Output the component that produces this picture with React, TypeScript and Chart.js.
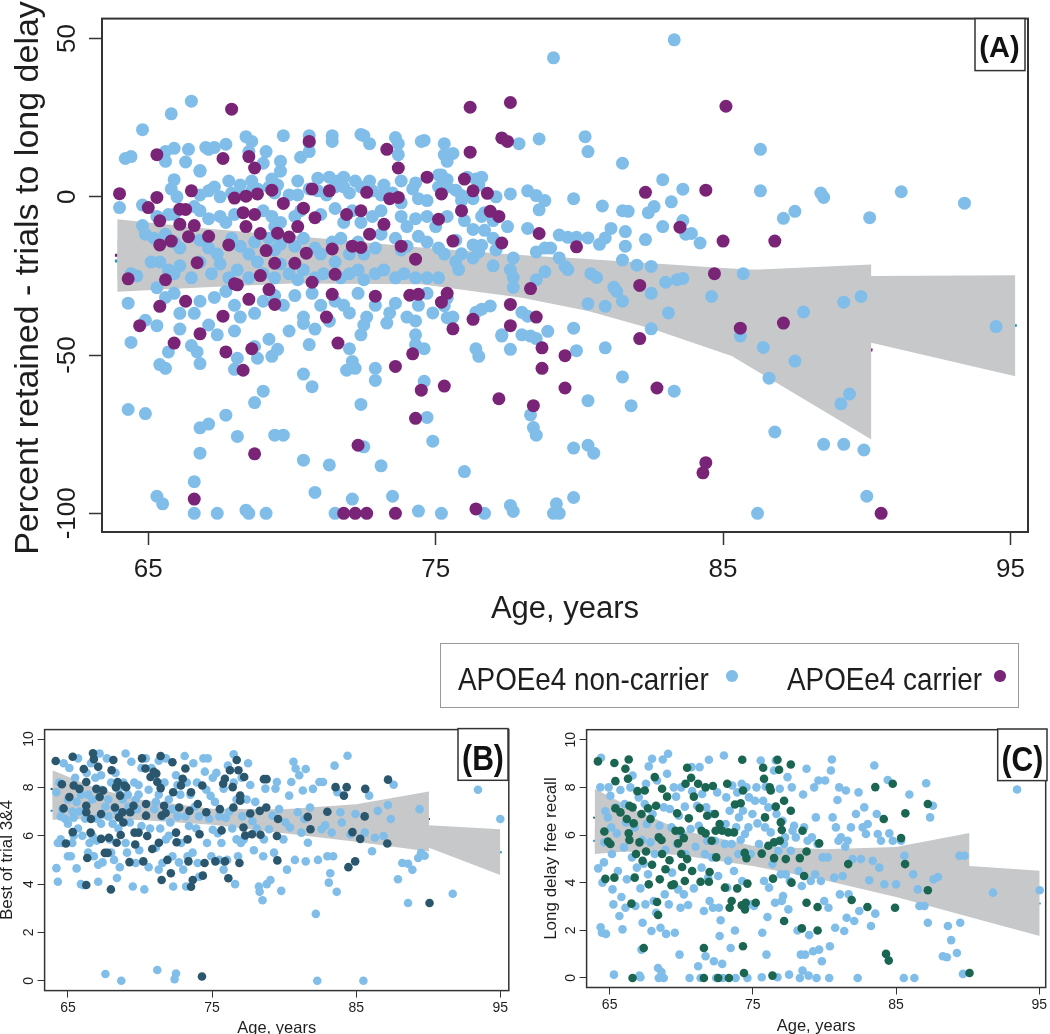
import React, { useEffect, useRef } from "react";
import { Chart, registerables } from "chart.js";

Chart.register(...registerables);

type Pt = [number, number];

const FONT = '"Liberation Sans", Arial, Helvetica, sans-serif';
const NC_COLOR = "#80BEE9";
const BAND_COLOR = "#C7C8CA";

// ---------- axis ticks ----------
const ageTicks = [65, 75, 85, 95];
const panelAYTicks = [-100, -50, 0, 50];
const panelBYTicks = [0, 2, 4, 6, 8, 10];
const panelCYTicks = [0, 2, 4, 6, 8, 10];

// ---------- legend ----------
const legendLabels = ["APOEe4 non-carrier", "APOEe4 carrier"];

// ---------- Panel A: percent retained - trials to long delay ----------
const panelANonCarrier: Pt[] = [
  [83.3,49.6],[79.1,43.9],[66.5,30.2],[65.8,26.2],[64.8,21.2],[64.2,12.1],[64.4,12.7],[64.0,-3.4],[64.8,-2.6],[64.8,-9.1],
  [80.2,19],[80.3,14.3],[78.6,18.3],[77.9,16.8],[77.6,0.9],[78.2,1.9],[78.5,0.4],[78.8,-1.2],[79.8,-0.6],[80.8,-2.9],
  [81.5,10.6],[81.5,-4.4],[81.7,-4.6],[82.4,-5],[82.6,-3.1],[82.9,5.4],[83.2,-1.6],[83.6,2.4],[82.9,-9.4],[83.6,-7.5],
  [83.7,-11.8],[83.9,-11.6],[84.2,-14.6],[81.1,-10],[80.9,-13],[80.7,-15],[81.6,-11],[81.6,-15.6],[81.5,-20],[82.3,-13.5],
  [82,-21.6],[82.5,-22],[83,-27],[83.4,-26.2],[83.6,-25.8],[82.5,-30.5],[83.1,-36.7],[82.5,-41.7],[80.9,-47.7],[79.9,-48.6],
  [80.4,-24.3],[80.6,-25.5],[81.2,-28.6],[81.3,-29.9],[81.5,-33],[80.3,-33.8],[80.9,-34.6],[79.8,-41.5],[79.6,-12.8],[79.9,-12.8],
  [80.3,-13],[79.3,-12.1],[79.3,-19.3],[79.5,-22],[79.6,-23],[79,-16.2],[78.8,-16.2],[78.5,-17.4],[78.8,-23.7],[78.5,-26.2],
  [78.2,-10],[78.6,-4.1],[77.7,-19.3],[77.6,-23],[77.7,-25.5],[77.7,-28.6],[78,-36.5],[78.2,-37.7],[78,-43.6],[78.3,-44],
  [78.5,-44.8],[78.9,-42.5],[77.6,-48.2],[77.3,-43.6],[76.4,-48],[76.5,-50.4],[78.3,-68.9],[78.4,-72.9],[78.5,-75.3],[79.8,-79.4],
  [80.3,-78.5],[80.5,-81],[80.3,-64.4],[81.8,-66],[81.5,-56.9],[83.3,-61.4],[85.7,-24.3],[84.6,-31.5],[85.6,-44],[86.4,-47.6],
  [86.6,-57.3],[86.8,-74.3],[87.5,-51.9],[87.8,-36.4],[87.1,-6.8],[87.5,-4.6],[86.3,1.9],[86.3,15],[88.4,1.2],[88.5,-0.2],
  [90.1,-6.6],[91.2,1.6],[93.4,-2],[94.5,-41],[89.2,-33.3],[89.8,-31.5],[89.1,-65.4],[89.4,-62.3],[88.5,-78.2],[89.2,-78.2],
  [89.9,-80],[86.2,-100],[90,-94.6],[79.8,-95],[79.2,-97],[79.3,-100],[79.1,-100],[77.6,-97.5],[77.7,-99.4],[76.7,-100],
  [76,-86.8],[75.2,-100],[74.4,-99.3],[73.5,-94.6],[73.1,-85],[72.4,-65.6],[72.5,-79],[72.1,-95.5],[71.5,-100],[71.3,-84.7],
  [70.8,-93.4],[70.4,-83.2],[70.7,-60],[70.4,-56],[70.6,-46.7],[69.1,-100],[68.5,-100],[68.4,-99],[67.4,-100],[66.6,-100],
  [66.6,-90],[65.3,-94.6],[65.5,-97],[66.8,-81],[66.8,-73],[67.1,-71.8],[67.7,-69],[68.1,-75.7],[69.4,-75.3],[69.7,-75.3],
  [68.7,-65],[69,-61.4],[64.3,-67.2],[64.9,-68.5],[65.4,-53],[65.6,-54.2],[65.7,-49],[64.4,-46],[65.3,-40.7],[64.9,-39],
  [64.3,-33.6],[64.6,-25],[66.8,-52.7],[66.5,-47],[66.7,-49],[68,-54.5],[68.1,-51],[68.8,-51],[68.7,-47.3],[69.3,-50.4],
  [69.5,-48.2],[69.2,-45],[69.9,-42.4],[70.4,-38],[70.4,-40],[72,-48],[72.1,-52],[71.9,-54.8],[72.2,-54.2],[72.4,-43.6],
  [72.5,-40.5],[72,-36.7],[72.6,-38],[72.9,-54.2],[72.9,-58],[73.3,-39.9],[73.4,-36.7],[73.6,-33.6],[74,-38],[74.3,-39.2],
  [74.3,-43.6],[74.3,-46.7],[74.6,-48],[74.6,-58.3],[74.7,-69.7],[74.9,-77.2],[74.9,-36.7],[75.3,-34.4],[75.4,-32],[75.4,-38.2],
  [75.6,-38],[76.4,-36.5],[76.9,-34.5],[76.6,-35.5],[77.3,-44],[77.1,-16.8],[77,-21.8],[76.6,-15.3],[76.7,-10.6],[76.6,-6.2],
  [76.7,-5],[76.6,6.2],[76.1,6.2],[76.4,5.6],[76.5,3.7],[75.2,6.9],[75.4,5.4],[75.7,2.1],[75.9,0.4],[75.9,-1.2],
  [75.9,-4.4],[76,-7.5],[76.3,-10.3],[76.3,-15.2],[76.5,-17.4],[76.3,-19.3],[75.9,-18],[75.7,-20.5],[75.8,-23],[75.3,13.3],
  [75.4,11.2],[75.6,13.7],[75.3,16.8],[74.5,17.5],[74.6,17.8],[73.7,13.3],[73.7,16.8],[73.6,18.7],[72.7,16.8],[72.5,19.3],
  [72.4,19.7],[71.4,17.5],[71.4,19.3],[70.6,19.3],[70.6,14.3],[70.3,12.5],[70.6,17],[69.7,19.3],[69.6,11.2],[69.6,8.1],
  [69,10.6],[69.1,14.3],[68.5,14.3],[68.4,19],[68.6,17.5],[67.7,16.6],[67,15.6],[67.1,15],[67.3,15.6],[66.4,15],
  [65.9,15.3],[65.6,14.3],[65.6,11.2],[66.3,11],[66.8,8.3],[65.9,5.4],
  [66.8,8.1],[67.3,3.1],[67.8,5],[68.2,3.7],[68.6,5],[69.3,5.6],[69.5,3.7],[70.2,5],[70.9,5.9],[71.3,6.2],
  [71.6,5],[71.8,6.2],[72.2,5],[72.7,5],[73.2,3.7],[73.8,5],[74.3,4.4],[75.1,6.9],
  [65.8,2.5],[66,0],[66.8,0.6],[67.1,1.9],[67.5,0],[67.9,1.2],[68.1,0.6],[68.6,1.9],[68.8,2.5],[69.2,3.1],
  [69.4,1.2],[69.9,0.6],[70.2,0.6],[70.6,2.5],[70.9,1.9],[71.2,0.6],[71.5,3.1],[71.8,3.1],[72,1.2],[72.4,3.1],
  [72.8,1.9],[73.1,0.6],[73.5,1.2],[73.8,-1.9],[74.2,2.5],[74.4,-0.6],[74.7,-1.2],[75.1,3.1],[75.4,3.1],[76.3,-0.6],[77.1,0],
  [65.3,-6.2],[65.7,-5.6],[65.9,-5.6],[66.6,-3.1],[66.8,-4.4],[67.1,-6.9],[67.5,-6.2],[67.7,-8.1],[68,-5.6],[69,-4.4],
  [69.3,-6.2],[69.4,-9.4],[69.6,-8.1],[70.1,-6.2],[70.3,-4.4],[71,-5.6],[71.5,-3.7],[71.8,-8.1],[72.1,-4.4],[72.4,-8.1],
  [72.8,-6.2],[73.1,-4.4],[73.8,-6.2],[74,-9.4],[74.3,-6.9],[74.7,-6.2],[75,-9.4],[75.4,-6.2],[77,-7.5],[77.5,-9.4],
  [64.9,-11.8],[65.2,-13.1],[65.6,-11.8],[65.9,-14.3],[66.1,-16.2],[66.8,-13.7],[67.1,-16.2],[67.4,-18.1],[67.9,-13.1],[68.2,-15.6],
  [68.5,-18.1],[68.7,-14.3],[69.2,-13.1],[69.4,-16.8],[69.6,-15],[70.1,-15.6],[70.4,-13.1],[70.8,-16.2],[71,-18.1],[71.4,-14.3],
  [71.7,-13.1],[72,-18.1],[72.3,-14.3],[72.5,-18.1],[72.9,-16.2],[73.1,-11.8],[73.6,-13.1],[73.8,-16.8],[74,-15.6],[74.4,-12.5],
  [74.7,-14.3],[75.1,-16.2],[75.3,-18.1],[75.7,-13.7],[77,-13.1],
  [64.4,-24.3],[65.1,-20.6],[65.4,-20.6],[65.7,-23.1],[65.9,-24.3],[66.1,-21.8],[66.5,-25.6],[66.8,-20.6],[67.2,-24.3],[67.5,-21.2],
  [67.8,-25.6],[68.1,-23.1],[68.5,-25.6],[68.8,-20.6],[69,-24.3],[69.4,-25.6],[69.6,-21.2],[69.9,-24.3],[70.2,-26.2],[70.4,-23.1],
  [70.8,-25.6],[71.1,-24.3],[71.5,-20.6],[71.7,-25.6],[72,-24.3],[72.3,-23.1],[72.5,-26.2],[72.9,-24.3],[73.2,-23.1],[73.6,-25.6],
  [73.9,-24.3],[74.3,-25.6],[74.7,-25.6],[75.1,-25.6],
  [65.3,-28.7],[65.6,-31.8],[65.9,-30.5],[66.1,-36.8],[66.6,-36.8],[66.8,-33],[67.3,-31.8],[67.7,-29.9],[68,-34.3],[68.2,-38],
  [68.7,-36.8],[69,-33],[69.4,-31.2],[69.7,-34.3],[70.1,-31.2],[70.7,-30.5],[71,-34.3],[71.5,-33],[71.8,-34.3],[72.3,-30.5],
  [72.9,-34.3],[74.4,-34.3],[74.7,-30.5],
  [66.1,-41.8],[67.1,-40.5],[67.4,-43.6],[68,-42.4],[70.8,-41.8],[71.3,-39.3]
];

const panelACarrier: Pt[] = [
  [64,1],[64.3,-25.9],[64.7,-40.7],[65,-3.4],[65.3,13.3],[65.3,-0.2],[65.4,-7.6],[65.4,-15.2],[65.4,-34.6],[65.6,-26.2],
  [65.8,-14],[65.9,-46.2],[66.1,-3.9],[66.1,-8.7],[66.3,-4],[66.3,-33],[66.4,-12.6],[66.5,1.9],[66.6,-95.5],[66.6,-9.1],
  [66.7,-20.8],[66.8,-43.3],[67.1,-12.5],[67.6,12.1],[67.6,-37.7],[67.7,-49],[67.8,-15.2],[67.9,27.7],[68,-0.4],[68,-27.5],
  [68.1,-27.8],[68.3,-5],[68.4,0.2],[68.4,-9.4],[68.5,-32.4],[68.5,12.7],[68.6,-48],[68.7,9.1],[68.7,-81.2],[68.7,-5.6],
  [68.8,0.9],[68.9,-11.6],[68.9,-24.9],[69.1,-17],[69.2,-29.3],[69.3,2.1],[69.4,-21],[69.4,-34],[69.5,-11.5],[69.7,-2.1],
  [69.9,-12.7],[70.1,-21],[70.2,-9.4],[70.4,-3.6],[70.5,-17.8],[70.6,17.5],[70.7,2.5],[70.7,-27],[70.8,-6.6],[71.2,-38],
  [71.3,1.9],[71.4,-16.5],[71.4,-30.8],[71.5,-24.5],[71.6,-46.2],[71.9,-5.6],[72.1,-15.6],[72.3,-78.5],[72.4,-4.4],[72.4,-16],
  [72.6,1.4],[72.7,-11.8],[72.9,-31.4],[73.2,-8.7],[73.3,15],[73.4,-0.6],[73.6,-53.6],[73.7,9.1],[73.7,-0.2],[73.8,-15.6],
  [74.1,-31.1],[74.2,-49.6],[74.3,-19.7],[74.3,-70],[74.4,-30.8],[74.5,-61.1],[74.7,6.2],[75.1,-7.1],[75.2,0.9],[75.2,-33.3],
  [75.3,-59.8],[75.4,-30.5],[75.6,-14],[75.6,-41.7],[75.9,-4.4],[76,5.6],[76.2,28.3],[76.2,14.1],[76.3,1.9],[76.3,-38.7],
  [76.4,-98.6],[76.8,1.1],[76.9,-4.6],[77.2,-63.8],[77.2,-6.2],[77.3,18.6],[77.3,-14.6],[77.5,17.5],[77.6,29.8],[77.6,-34],
  [77.6,-40.7],[78.3,-29],[78.4,-66],[78.5,-38],[78.6,-11.6],[78.7,-47.7],[78.7,-54.2],[79.5,-60.4],[79.5,-50.2],[79.9,-15.8],
  [82.1,-44.8],[82.1,-28],[82.3,1.4],[82.7,-60.4],[83.5,-9.6],[84.3,-87.2],[84.4,-84],[84.4,2.1],[84.7,-24.3],[85,-14],
  [85.1,28.6],[85.6,-41.5],[86.8,-14],[87.1,-39.9],[90.5,-100],[71.8,-100],[72.2,-100],[72.6,-100],[73.6,-100],[68.3,-54.8]
];

// confidence ribbons (age, upper, lower) and fitted smooth lines, panel A
const aBandNcAge = [63.92, 70, 75, 80, 85, 90.16, 95.17];
const aBandNcUpper = [-14, -15.5, -17, -19.5, -22.5, -25, -24.8];
const aBandNcLower = [-26, -26.5, -27, -30, -36, -46.1, -56.7];
const aBandCAge = [63.92, 67, 70, 74.5, 78, 80.3, 82.6, 85.3, 90.16];
const aBandCUpper = [-7.1, -10, -12.3, -16, -18.5, -20.2, -21.8, -23.4, -21.4];
const aBandCLower = [-30, -28.6, -27.4, -27.6, -31.9, -36.1, -41.9, -50.3, -76.7];
const aFitNc: Pt[] = [[63.84, -20.3], [70, -21], [75, -22.5], [80, -25], [85, -29], [90.16, -35.5], [95.22, -40.7]];
const aFitC: Pt[] = [[63.84, -18.5], [70, -20], [75, -22], [80, -27.5], [85, -36], [90.2, -48.5]];

// ---------- Panel B: best of trial 3&4 ----------
const panelBNonCarrier: Pt[] = [
  [64.2,4.66],[64.3,4.1],[64.4,8.2],[64.5,5.85],[64.6,5.7],[64.7,9.0],[64.8,6.7],[65,6.5],[65.1,8.8],[65.2,5.15],
  [65.3,5.7],[65.5,8.4],[65.6,4.65],[65.6,7.4],[65.7,6.3],[65.7,9.2],[65.9,4.0],[65.9,7.7],[66,6.0],[66.1,3.95],
  [66.2,6.7],[64.6,7.1],[64.5,6.8],[64.3,5.7],[65,7.5],[65.3,7.0],[65.4,6.75],[64.2,7.8],[65.8,7.0],[65,5.15],[65.4,6.0],
  [66.4,7.7],[66.5,5.7],[66.6,9.0],[66.7,7.5],[66.9,8.4],[67.0,5.8],[67.1,4.8],[67.1,4.1],[67.2,9.4],[67.3,8.5],
  [67.3,6.5],[67.4,4.9],[67.6,7.2],[67.7,9.2],[67.6,0.28],[67.8,7.5],[67.9,5.85],[68,8.2],[68.1,6.5],[68.2,5.0],
  [68.3,8.6],[68.4,7.0],[68.4,4.25],[68.5,6.3],[68.6,4.7],[68.7,0],[68.8,7.5],[68.85,8.2],[69,5.7],[69,9.4],
  [69.1,5.3],[69.15,7.7],[69.3,6.55],[69.4,9.06],[69.5,3.9],[69.6,8.2],[69.7,4.87],[69.8,7.1],[69.9,7.7],[69.95,5.4],
  [70.1,8.8],[70.1,6.4],[70.3,3.78],[69.9,8.1],[69.7,7.5],[69.4,7.0],[69.2,7.2],[68.5,7.9],[68,5.3],[67.8,6.8],
  [67.3,7.9],[67,6.7],[66.7,6.0],[66.8,5.15],[66.3,8.6],[66.4,5.3],
  [70.4,9.2],[70.6,7.9],[70.6,4.7],[70.7,6.3],[70.8,8.8],[71,7.1],[71.1,5.5],[71.2,0.45],[71.3,7.7],[71.3,9.1],
  [71.4,6.3],[71.55,4.87],[71.7,8.2],[71.8,5.85],[71.8,9.2],[72,7.5],[72.1,6.55],[72.25,5.15],[72.3,3.9],[72.4,0.07],
  [72.5,0.3],[72.5,8.5],[72.6,6.8],[72.7,4.9],[72.8,7.7],[72.85,5.7],[73,4.6],[73.1,9.3],[73.15,6.8],[73.2,3.9],
  [73.25,8.2],[73.3,5.15],[73.4,6.4],[73.5,7.7],[73.65,5.3],[73.7,9.0],[73.8,7.2],[73.9,6.3],[73.95,8.2],[74,4.87],
  [74.1,4.3],[74.1,6.8],[71.1,7.4],[71.55,6.8],[72,6.0],[72.25,7.1],[72.6,8.1],[71.3,4.6],
  [74.4,9.2],[74.5,8.65],[74.6,7.9],[74.65,5.7],[74.7,9.2],[74.8,6.7],[74.9,7.65],[74.95,5.15],[75.05,8.4],[75.2,7.4],
  [75.3,8.6],[75.4,6.1],[75.5,5.0],[75.65,5.7],[75.8,4.6],[75.8,7.95],[75.95,6.75],[76.05,5.0],[76.1,8.9],[76.4,6.3],
  [76.5,8.2],[76.5,9.37],[76.6,4.0],[76.7,7.5],[76.8,5.15],[77,5.7],[77.05,8.4],[77.1,6.8],[77.2,5.85],[77.4,7.5],
  [77.5,9.0],[77.65,8.1],[77.8,6.6],[77.9,5.4],[78,7.4],[78.1,6.3],[78.25,3.9],[76.7,5.85],[75.5,6.8],[75.05,6.25],[76.2,7.0],
  [78.3,3.68],[78.5,3.33],[78.55,5.15],[78.6,5.85],[78.7,7.95],[78.8,4.0],[78.95,6.27],[79.05,4.17],[79.2,6.83],[79.3,5.3],
  [79.4,7.95],[79.5,8.22],[79.65,7.1],[79.8,3.72],[79.95,5.85],[80.1,6.55],[80.2,4.6],[80.35,7.66],[80.4,6.34],[80.5,8.22],
  [80.65,9.06],[80.75,5.0],[80.8,8.78],[80.95,6.97],[81.05,8.5],[81.2,6.13],[81.3,7.87],[81.4,6.69],[81.5,8.76],[81.65,5.71],
  [81.5,4.94],[81.8,7.17],[82,7.94],[82.2,2.77],[82.3,0],[82.35,5.0],[82.45,8.22],[82.6,6.27],
  [82.7,8.22],[82.85,6.43],[83,5.15],[83.1,4.06],[83.2,4.45],[83.3,6.13],[83.4,5.15],[83.5,8.9],[83.65,3.68],[83.7,7.8],
  [83.9,6.97],[84,6.55],[84.4,9.31],[84.6,6.06],[84.95,6.9],[85.5,0],[85.6,6.13],[85.9,7.66],[86.1,5.36],[86.3,5.92],
  [86.5,7.03],[86.9,5.99],[87.2,7.27],[87.4,6.69],[87.6,8.11],[87.9,4.2],[88.2,4.87],[88.6,4.84],[88.6,3.22],[88.9,4.59],
  [89.3,5.08],[89.4,7.1],[89.5,5.29],[89.75,5.17],[91.7,3.6],[93.45,7.9],[95,6.69]
];

const panelBCarrier: Pt[] = [
  [64.15,9.09],[64.58,8.13],[64.7,7.13],[64.86,5.68],[65.1,7.6],[65.33,9.27],[65.4,8.08],[65.8,7.94],[65.33,6.15],[66.1,8.76],
  [66.27,8.22],[66.27,7.24],[66.27,6.97],[66.34,5.08],[66.27,3.96],[66.57,6.13],[66.6,6.69],[66.74,9.41],[66.8,9.17],[66.97,7.94],
  [67.1,8.85],[67.2,7.6],[67.3,6.9],[67.3,5.87],[67.44,7.87],[67.56,5.29],[67.75,5.29],[67.84,5.92],[67.98,3.78],[68.03,8.71],
  [68.15,9.13],[68.26,7.17],[68.33,8.01],[68.38,5.71],[68.45,8.22],[68.54,6.76],[68.62,7.66],[68.66,6.03],[68.78,6.97],[68.85,6.55],
  [68.92,8.08],[69.04,8.01],[69.27,4.91],[69.32,6.97],[69.55,7.24],[69.62,6.13],[69.67,5.64],[69.9,6.13],[70.14,9.2],[70.23,4.94],
  [70.38,8.78],[70.42,7.31],[70.42,6.83],[70.5,5.99],[70.73,8.43],[70.85,5.45],[70.96,8.64],[71.13,8.57],[71.2,8.22],[71.31,5.71],
  [71.43,9.3],[71.43,7.97],[71.5,4.17],[71.5,6.83],[71.67,7.24],[71.78,6.94],[71.9,5.0],[72.14,4.45],[72.25,9.04],[72.3,7.8],
  [72.5,6.13],[72.54,5.73],[72.72,7.17],[72.84,8.08],[72.96,8.36],[73.15,8.78],[73.3,5.85],[73.36,4.94],[73.43,7.03],[73.54,7.8],
  [73.54,3.89],[73.66,4.17],[74.01,7.31],[74.13,6.06],[74.3,0.18],[74.32,8.08],[74.36,4.35],[74.48,4.87],[74.6,6.97],[75.23,4.94],
  [75.54,7.1],[75.66,6.22],[75.77,8.15],[75.89,8.36],[75.89,4.94],[76.13,4.24],[76.24,8.71],[76.43,8.01],[76.48,7.17],[76.71,9.13],
  [76.83,8.71],[76.95,7.66],[76.95,7.45],[76.9,4.87],[77.18,6.34],[77.23,8.43],[77.3,6.01],[77.65,6.92],[77.77,6.06],[78.36,6.04],
  [78.6,8.34],[78.78,8.34],[78.76,7.17],[78.31,7.03],[79.5,5.99],[79.53,4.98],[79.58,6.69],[81.64,6.78],[81.83,6.27],[83.0,6.99],
  [83.57,8.01],[84.15,7.66],[84.34,8.01],[84.46,4.7],[84.74,6.15],[84.93,4.94],[85.28,5.87],[85.59,6.8],[85.63,7.94],[87.21,8.32],
  [87.16,5.68],[90.09,3.22]
];

const bBandNcAge = [63.92, 70, 75, 80, 85, 90.05, 95];
const bBandNcUpper = [7.75, 7.3, 6.95, 6.75, 6.55, 6.43, 6.27];
const bBandNcLower = [7.0, 6.8, 6.55, 6.2, 5.85, 5.5, 4.38];
const bBandCAge = [63.92, 67, 70, 75, 80, 85, 90.05];
const bBandCUpper = [8.71, 7.95, 7.5, 7.12, 7.1, 7.3, 7.83];
const bBandCLower = [6.66, 6.7, 6.65, 6.45, 6.1, 5.75, 5.35];
const bFitNc: Pt[] = [[63.8, 7.03], [70, 7.0], [75, 6.75], [80, 6.45], [85, 6.2], [90.05, 5.95], [95.1, 5.31]];
const bFitC: Pt[] = [[63.8, 7.94], [67, 7.5], [70, 7.1], [75, 6.8], [80, 6.6], [85, 6.55], [90.12, 6.69]];

// ---------- Panel C: long delay free recall ----------
const panelCNonCarrier: Pt[] = [
  [64.2,4.6],[64.35,8.0],[64.4,9.24],[64.37,2.13],[64.46,1.9],[64.74,1.85],[64.63,5.69],[64.5,4.0],[64.7,7.0],[64.6,4.85],
  [64.93,8.0],[65.05,7.65],[65.16,5.2],[65.2,3.72],[65.26,3.09],[65.3,0.14],[64.88,6.74],[65.12,6.32],[65.44,7.16],[65.5,6.07],
  [65.58,4.49],[65.68,2.6],[65.75,7.89],[65.82,3.4],[65.9,2.04],[66,5.48],[66.05,7.3],[66.1,2.95],[66.14,6.53],[66.2,4.14],
  [66.45,8.0],[66.56,5.06],[66.6,8.5],[66.75,6.32],[66.8,3.02],[66.9,4.63],[67.03,7.58],[67.08,0.1],[67.15,0.03],[67.15,3.76],
  [67.22,1.19],[67.26,5.79],[67.3,2.32],[67.38,4.8],[67.45,7.3],[67.5,3.09],[67.54,8.15],[67.6,6.46],[67.68,4.35],[67.73,8.88],
  [67.85,5.69],[67.92,1.97],[67.96,9.2],[68.0,6.88],[68.08,3.23],[68.15,5.2],[68.24,2.74],[68.31,8.29],[68.38,0.42],[68.43,0],
  [68.48,6.39],[68.55,2.11],[68.62,0.25],[68.71,9.17],[68.78,0],[68.78,7.16],[68.85,3.51],[68.9,5.37],[68.94,1.85],[69.01,8.57],
  [69.08,9.41],[69.13,3.09],[69.2,7.09],[69.32,6.32],[69.36,4.42],[69.48,8.0],[69.55,1.9],[69.64,7.61],[69.71,5.62],[69.78,3.72],
  [69.83,6.81],[69.88,0.98],[69.95,2.95],[70.0,8.0],[70.06,6.04],[70.18,3.51],[70.25,7.19],[70.3,5.2],
  [70.48,3.06],[70.58,0],[70.65,6.25],[70.72,8.85],[70.76,7.84],[70.88,3.76],[71.0,5.51],[71.11,7.23],[71.18,0.49],[71.23,6.39],
  [71.28,8.85],[71.35,0],[71.42,4.63],[71.46,7.72],[71.58,2.81],[71.65,5.2],[71.7,0.91],[71.74,7.16],[71.81,5.76],[71.88,4.21],
  [71.93,9.16],[71.98,3.23],[72.05,6.88],[72.16,5.06],[72.21,2.95],[72.28,0.7],[72.35,5.76],[72.44,0],[72.51,7.79],[72.58,4.28],
  [72.63,2.95],[72.68,1.76],[72.75,2.42],[72.86,0.59],[72.91,0],[72.98,9.34],[73.05,5.62],[73.1,6.46],[73.14,7.58],[73.21,3.79],
  [73.28,4.92],[73.38,7.02],[73.45,1.26],[73.52,5.62],[73.56,8.08],[73.68,4.49],[73.75,1.99],[73.8,0],[73.84,6.32],[73.91,7.79],
  [73.98,5.2],[74.03,6.74],[74.15,5.79],[74.22,8.15],[74.26,4.07],[74.31,7.02],
  [74.45,6.04],[74.55,8.0],[74.62,0],[74.69,6.32],[74.73,7.58],[74.85,5.2],[74.92,3.09],[74.97,6.88],[75.08,3.02],[75.15,7.44],
  [75.25,8.0],[75.32,6.49],[75.43,5.62],[75.55,9.13],[75.62,0.03],[75.66,1.9],[75.72,7.44],[75.78,4.07],[75.85,6.32],[75.9,8.03],
  [75.95,0.98],[76.02,2.56],[76.08,7.16],[76.13,3.79],[76.25,6.11],[76.37,4.78],[76.48,8.71],[76.55,3.16],[76.6,9.13],[76.65,6.88],
  [76.72,0.03],[76.78,5.34],[76.88,7.94],[76.95,4.35],[77.02,3.23],[77.07,6.6],[77.11,3.44],[77.18,5.62],[77.25,5.9],[77.3,4.35],
  [77.42,8.43],[77.48,2.88],[77.53,0.14],[77.58,4.07],[77.65,5.34],[77.72,8.0],[77.77,6.18],
  [77.88,6.39],[78.0,5.9],[78.12,1.99],[78.2,4.49],[78.28,0],[78.35,0.98],[78.42,3.86],[78.47,0.31],[78.51,7.7],[78.58,6.32],
  [78.65,0.98],[78.75,8.78],[78.82,5.76],[78.89,0.1],[78.93,1.8],[79.05,4.07],[79.12,5.9],[79.21,1.12],[79.28,8.0],[79.35,4.35],
  [79.4,6.74],[79.45,0],[79.52,5.62],[79.58,8.29],[79.63,1.19],[79.75,4.07],[79.82,0.7],[79.87,5.06],[79.98,3.23],[80.05,8.29],
  [80.22,5.06],[80.28,2.95],[80.33,0],[80.38,1.33],[80.45,8.71],[80.52,9.17],[80.57,6.74],[80.68,4.21],[80.75,2.11],[80.8,6.32],
  [80.91,7.47],[80.98,5.76],[81.03,8.0],[81.08,3.51],[81.15,5.9],[81.27,4.28],[81.38,1.97],[81.45,5.51],[81.5,7.87],[81.55,2.53],
  [81.62,5.76],[81.69,3.51],
  [81.85,6.32],[81.97,4.99],[82.08,2.39],[82.2,6.88],[82.32,0],[82.38,7.79],[82.43,2.81],[82.55,4.99],[82.67,6.32],[82.78,7.16],
  [82.9,6.04],[83.02,6.46],[83.13,4.1],[83.25,2.18],[83.37,4.92],[83.48,8.92],[83.55,2.7],[83.65,6.88],[83.72,6.04],[83.83,4.63],
  [83.95,5.76],[84.18,3.93],[84.42,8.31],[84.53,6.07],[84.77,5.76],[85.0,3.93],[85.35,5.76],[85.54,0],[85.58,5.13],[85.93,7.7],
  [86.2,4.35],[86.28,0],[86.52,3.72],[86.63,3.02],[86.98,3.02],[87.1,8.17],[87.22,2.32],[87.38,6.74],[87.57,7.23],[87.62,4.14],
  [87.92,4.24],[88.27,0.91],[88.55,0.87],[88.62,2.18],[88.85,1.59],[89.25,1.05],[89.43,5.13],[89.48,2.32],[89.67,0.17],[89.78,5.13],
  [91.77,3.58],[93.45,7.91],[95.03,3.68]
];

const panelCCarrier: Pt[] = [
  [64.18,9.09],[64.63,6.15],[64.7,4.16],[64.88,5.73],[65.05,5.62],[65.33,9.02],[65.4,8.26],[65.33,4.21],[65.4,7.12],[65.75,6.95],
  [66.1,8.78],[66.2,6.67],[66.28,8.36],[66.33,9.17],[66.33,6.07],[66.38,7.23],[66.38,5.79],[66.52,3.12],[66.6,7.16],[66.6,0],
  [66.68,6.49],[66.75,4.21],[66.84,5.2],[66.94,7.84],[67.08,5.69],[67.22,6.88],[67.3,4.92],[67.38,1.26],[67.45,7.87],[67.54,5.31],
  [67.68,7.12],[67.73,3.93],[67.85,6.67],[67.96,4.75],[68.15,8.43],[68.24,7.23],[68.31,3.19],[68.38,2.64],[68.43,5.9],[68.5,4.14],
  [68.62,5.79],[68.66,7.94],[68.66,5.2],[68.9,4.56],[69.01,7.61],[69.18,4.94],[69.32,3.89],[69.48,3.93],[69.6,6.18],[69.71,6.91],
  [69.78,5.65],[69.95,6.18],[70.0,5.2],[70.06,4.66],[70.18,5.87],[70.25,4.07],[70.3,8.15],[70.41,8.82],[70.41,4.99],[70.53,6.7],
  [70.69,8.4],[70.76,4.49],[70.88,7.61],[71.18,8.15],[71.28,7.13],[71.35,4.04],[71.42,6.18],[71.58,0],[71.58,1.26],[71.7,6.07],
  [71.7,8.0],[71.81,6.81],[71.93,4.04],[71.98,4.45],[72.12,5.76],[72.21,8.06],[72.35,6.88],[72.4,6.18],[72.44,5.06],[72.58,0],
  [72.68,6.46],[72.86,6.18],[73.05,3.79],[73.21,8.15],[73.28,6.11],[73.33,0],[73.38,2.95],[73.52,3.23],[73.68,6.11],[73.75,7.28],
  [73.91,3.76],[74.15,7.33],[74.22,3.05],[74.26,9.16],[74.31,7.87],[74.31,1.33],[74.38,0.21],[74.43,5.25],[74.45,2.88],[74.5,3.16],
  [74.55,5.03],[74.62,3.96],[75.2,3.16],[75.62,5.22],[75.72,8.82],[75.78,8.36],[75.85,6.74],[76.08,5.55],[76.18,8.0],[76.25,7.87],
  [76.37,0.1],[76.41,4.17],[76.48,5.69],[76.48,5.03],[76.6,7.19],[76.72,9.16],[76.83,8.74],[76.88,5.76],[76.95,6.53],[77.02,6.21],
  [77.18,7.44],[77.18,2.39],[77.3,4.99],[77.65,8.96],[77.65,7.02],[77.7,4.0],[78.28,5.03],[78.42,2.08],[78.47,6.18],[78.58,4.28],
  [78.75,5.31],[78.75,3.16],[79.52,1.99],[79.52,2.98],[79.63,5.65],[81.66,4.78],[81.9,3.27],[83.0,2.98],[83.55,8.01],[84.14,6.67],
  [84.3,1.01],[84.49,0.73],[84.77,8.15],[84.93,2.95],[85.35,5.87],[85.65,6.91],[85.63,4.78],[87.22,7.3],[87.22,3.68],[90.13,0.21]
];

const cBandNcAge = [63.95, 70, 75, 80, 85, 90.13, 95.03];
const cBandNcUpper = [6.3, 5.75, 5.4, 5.1, 4.9, 4.7, 4.5];
const cBandNcLower = [5.4, 5.15, 4.7, 4.1, 3.4, 2.56, 1.76];
const cBandCAge = [63.95, 67, 70, 75, 80, 85, 90.13];
const cBandCUpper = [7.94, 7.0, 6.2, 5.55, 5.4, 5.5, 6.08];
const cBandCLower = [5.2, 5.35, 5.2, 4.8, 4.2, 3.5, 2.6];
const cFitNc: Pt[] = [[63.85, 5.76], [70, 5.5], [75, 5.05], [80, 4.6], [85, 4.1], [90.13, 3.6], [95.1, 3.12]];
const cFitC: Pt[] = [[63.85, 6.74], [67, 6.2], [70, 5.7], [75, 5.2], [80, 4.8], [85, 4.5], [90.2, 4.3]];

// ---------- panel layout/style specs ----------
type Spec = any;

const zip = (xs: number[], ys: number[]) => xs.map((x, i) => ({ x, y: ys[i] }));
const toXY = (pts: Pt[]) => pts.map(([x, y]) => ({ x, y }));

const specA: Spec = {
  id: "A", left: 0, top: 0, width: 1050, height: 630,
  area: { left: 102, top: 18.6, right: 1028, bottom: 532 },
  xMin: 63.39, xMax: 95.61, yMin: -105.9, yMax: 56.3,
  yTicks: panelAYTicks,
  nc: panelANonCarrier, c: panelACarrier, cColor: "#7A2478", radius: 6.5,
  bandNc: [aBandNcAge, aBandNcUpper, aBandNcLower], bandC: [aBandCAge, aBandCUpper, aBandCLower],
  fitNc: aFitNc, fitC: aFitC, fitNcColor: "#1E96C8", fitCColor: "#7A2478", fitWidth: 3,
  tickFont: 26, tickLen: 13, tickPad: 9, tickLabelX: 68, tickWidth: 1.5,
  xTitleFont: 31, xTitleLH: 1.2, xTitlePad: 2.4,
  yTitle: "Percent retained - trials to long delay", yTitleFont: 34, yTitleCustom: { x: 28.4, y: 278 },
  boxWidth: 2,
  label: "(A)", labelBox: { x: 975, y: 18.6, w: 50, h: 52 }, labelFont: 29, labelScaleX: 1, labelCx: 999.5, labelBaseline: 56.7,
};

const specB: Spec = {
  id: "B", left: 0, top: 700, width: 520, height: 334,
  area: { left: 44.6, top: 29.6, right: 508.8, bottom: 290.6 },
  xMin: 63.38, xMax: 95.59, yMin: -0.405, yMax: 10.39,
  yTicks: panelBYTicks,
  nc: panelBNonCarrier, c: panelBCarrier, cColor: "#2A566E", radius: 4.3,
  bandNc: [bBandNcAge, bBandNcUpper, bBandNcLower], bandC: [bBandCAge, bBandCUpper, bBandCLower],
  fitNc: bFitNc, fitC: bFitC, fitNcColor: "#2B8ACB", fitCColor: "#2A566E", fitWidth: 2,
  tickFont: 14, tickLen: 7, tickPad: 2.5, tickLabelX: 29.5, tickWidth: 1,
  xTitleFont: 16.5, xTitleLH: 0.7, xTitlePad: 0.2,
  yTitle: "Best of trial 3&4", yTitleFont: 17, yTitleLH: 0.7, yTitlePad: 1.5,
  boxWidth: 1.5,
  label: "(B)", labelBox: { x: 458, y: 28.6, w: 50, h: 51.7 }, labelFont: 35, labelScaleX: 0.86, labelCx: 483, labelBaseline: 70,
};

const specC: Spec = {
  id: "C", left: 525, top: 700, width: 525, height: 334,
  area: { left: 61.6, top: 29.7, right: 522, bottom: 287.5 },
  xMin: 63.39, xMax: 95.45, yMin: -0.4, yMax: 10.42,
  yTicks: panelCYTicks,
  nc: panelCNonCarrier, c: panelCCarrier, cColor: "#1B6652", radius: 4.3,
  bandNc: [cBandNcAge, cBandNcUpper, cBandNcLower], bandC: [cBandCAge, cBandCUpper, cBandCLower],
  fitNc: cFitNc, fitC: cFitC, fitNcColor: "#2B8ACB", fitCColor: "#1B6652", fitWidth: 2,
  tickFont: 14, tickLen: 7, tickPad: 2.1, tickLabelX: 46.5, tickWidth: 1,
  xTitleFont: 16.5, xTitleLH: 0.7, xTitlePad: 2.2,
  yTitle: "Long delay free recall", yTitleFont: 17, yTitleLH: 0.7, yTitlePad: 20,
  boxWidth: 1.5,
  label: "(C)", labelBox: { x: 472.7, y: 29, w: 49.3, h: 51.6 }, labelFont: 35, labelScaleX: 0.86, labelCx: 497.4, labelBaseline: 71,
};

function decorPlugin(s: Spec) {
  return {
    id: "decor" + s.id,
    // smooth lines sit underneath the ribbons; only their ends peek out
    beforeDatasetsDraw(chart: any) {
      const { ctx, chartArea: a, scales } = chart;
      ctx.save();
      ctx.beginPath();
      ctx.rect(a.left, a.top, a.right - a.left, a.bottom - a.top);
      ctx.clip();
      ctx.lineWidth = s.fitWidth;
      const fits: [Pt[], string][] = [[s.fitNc, s.fitNcColor], [s.fitC, s.fitCColor]];
      for (const [pts, color] of fits) {
        ctx.strokeStyle = color;
        ctx.beginPath();
        pts.forEach(([x, y]: Pt, i: number) => {
          const px = scales.x.getPixelForValue(x);
          const py = scales.y.getPixelForValue(y);
          if (i === 0) ctx.moveTo(px, py);
          else ctx.lineTo(px, py);
        });
        ctx.stroke();
      }
      ctx.restore();
    },
    afterDraw(chart: any) {
      const { ctx, chartArea: a, scales } = chart;
      ctx.save();
      // plot box
      ctx.strokeStyle = "#333";
      ctx.lineWidth = s.boxWidth;
      ctx.strokeRect(a.left, a.top, a.right - a.left, a.bottom - a.top);
      // rotated y tick labels (parallel to the axis)
      ctx.fillStyle = "#1e1e1e";
      ctx.font = `${s.tickFont}px ${FONT}`;
      ctx.textAlign = "center";
      ctx.textBaseline = "middle";
      for (const v of s.yTicks) {
        const py = scales.y.getPixelForValue(v);
        ctx.save();
        ctx.translate(s.tickLabelX, py);
        ctx.rotate(-Math.PI / 2);
        ctx.fillText(String(v), 0, 0);
        ctx.restore();
      }
      // long rotated y title (panel A)
      if (s.yTitleCustom) {
        ctx.save();
        ctx.font = `${s.yTitleFont}px ${FONT}`;
        ctx.translate(s.yTitleCustom.x, s.yTitleCustom.y);
        ctx.rotate(-Math.PI / 2);
        ctx.fillText(s.yTitle, 0, 0);
        ctx.restore();
      }
      // panel label box
      const b = s.labelBox;
      ctx.fillStyle = "#fff";
      ctx.fillRect(b.x, b.y, b.w, b.h);
      ctx.strokeStyle = "#333";
      ctx.lineWidth = 1.5;
      ctx.strokeRect(b.x, b.y, b.w, b.h);
      ctx.fillStyle = "#111";
      ctx.font = `bold ${s.labelFont}px ${FONT}`;
      ctx.textBaseline = "alphabetic";
      ctx.save();
      ctx.translate(s.labelCx, s.labelBaseline);
      ctx.scale(s.labelScaleX, 1);
      ctx.fillText(s.label, 0, 0);
      ctx.restore();
      ctx.restore();
    },
  };
}

function buildConfig(s: Spec): any {
  const lineBase = { type: "line", borderColor: "rgba(0,0,0,0)", borderWidth: 0, pointRadius: 0, pointHoverRadius: 0, tension: 0 };
  const datasets: any[] = [
    { type: "scatter", label: legendLabels[1], data: toXY(s.c), backgroundColor: s.cColor, borderWidth: 0, pointBorderWidth: 0, pointRadius: s.radius, pointHoverRadius: s.radius, order: 0 },
    { type: "scatter", label: legendLabels[0], data: toXY(s.nc), backgroundColor: NC_COLOR, borderWidth: 0, pointBorderWidth: 0, pointRadius: s.radius, pointHoverRadius: s.radius, order: 1 },
    { ...lineBase, label: "band nc upper", data: zip(s.bandNc[0], s.bandNc[1]), fill: "+1", backgroundColor: BAND_COLOR, order: 5 },
    { ...lineBase, label: "band nc lower", data: zip(s.bandNc[0], s.bandNc[2]), fill: false, order: 5 },
    { ...lineBase, label: "band c upper", data: zip(s.bandC[0], s.bandC[1]), fill: "+1", backgroundColor: BAND_COLOR, order: 6 },
    { ...lineBase, label: "band c lower", data: zip(s.bandC[0], s.bandC[2]), fill: false, order: 6 },
  ];
  const gridCommon = { display: true, drawOnChartArea: false, drawTicks: true, tickLength: s.tickLen, tickWidth: s.tickWidth, tickColor: "#333", color: "#333" };
  return {
    type: "scatter",
    data: { datasets },
    options: {
      animation: false,
      responsive: false,
      devicePixelRatio: 1,
      events: [],
      layout: { padding: { left: 0, top: s.area.top, right: s.width - s.area.right, bottom: 0 } },
      plugins: { legend: { display: false }, tooltip: { enabled: false } },
      scales: {
        x: {
          type: "linear", position: "bottom", min: s.xMin, max: s.xMax,
          afterBuildTicks: (sc: any) => { sc.ticks = ageTicks.map((v) => ({ value: v })); },
          afterFit: (sc: any) => { sc.height = s.height - s.area.bottom; sc.paddingLeft = 0; sc.paddingRight = 0; },
          grid: gridCommon,
          border: { display: false },
          ticks: { font: { family: FONT, size: s.tickFont }, color: "#1e1e1e", padding: s.tickPad, autoSkip: false, maxRotation: 0, minRotation: 0, callback: (v: any) => String(v) },
          title: { display: true, text: "Age, years", color: "#1e1e1e", font: { family: FONT, size: s.xTitleFont, lineHeight: s.xTitleLH }, padding: { top: 0, bottom: s.xTitlePad } },
        },
        y: {
          type: "linear", position: "left", min: s.yMin, max: s.yMax,
          afterBuildTicks: (sc: any) => { sc.ticks = s.yTicks.map((v: number) => ({ value: v })); },
          afterFit: (sc: any) => { sc.width = s.area.left; sc.paddingTop = 0; sc.paddingBottom = 0; },
          grid: gridCommon,
          border: { display: false },
          ticks: { font: { family: FONT, size: 8 }, color: "rgba(0,0,0,0)", padding: 0 },
          title: s.yTitleCustom
            ? { display: false }
            : { display: true, text: s.yTitle, color: "#1e1e1e", font: { family: FONT, size: s.yTitleFont, lineHeight: s.yTitleLH }, padding: { top: s.yTitlePad, bottom: 0 } },
        },
      },
    },
    plugins: [decorPlugin(s)],
  };
}

function Panel({ spec }: { spec: Spec }) {
  const ref = useRef<HTMLCanvasElement>(null);
  useEffect(() => {
    const chart = new Chart(ref.current as HTMLCanvasElement, buildConfig(spec));
    return () => chart.destroy();
  }, [spec]);
  return (
    <canvas
      ref={ref}
      width={spec.width}
      height={spec.height}
      style={{ position: "absolute", left: spec.left, top: spec.top, width: spec.width, height: spec.height }}
    />
  );
}

function Legend() {
  const textStyle: React.CSSProperties = {
    position: "absolute", top: 20, fontFamily: FONT, fontSize: 32, lineHeight: "32px", color: "#1e1e1e",
    whiteSpace: "nowrap", transform: "scaleX(0.87)", transformOrigin: "left top",
  };
  const dot = (cx: number, color: string): React.CSSProperties => ({
    position: "absolute", left: cx - 5.75, top: 33 - 5.75, width: 11.5, height: 11.5, borderRadius: "50%", background: color,
  });
  return (
    <div style={{ position: "absolute", left: 440, top: 643, width: 579, height: 65 }}>
      <div style={{ position: "absolute", inset: 0, border: "1.5px solid #9a9a9a", boxSizing: "border-box" }} />
      <span style={{ ...textStyle, left: 18 }}>{legendLabels[0]}</span>
      <div style={dot(292, NC_COLOR)} />
      <span style={{ ...textStyle, left: 346.6 }}>{legendLabels[1]}</span>
      <div style={dot(560, "#7A2478")} />
    </div>
  );
}

export default function App() {
  return (
    <div style={{ position: "absolute", left: 0, top: 0, width: 1050, height: 1034, background: "#fff", overflow: "hidden" }}>
      <Panel spec={specA} />
      <Panel spec={specB} />
      <Panel spec={specC} />
      <Legend />
    </div>
  );
}
